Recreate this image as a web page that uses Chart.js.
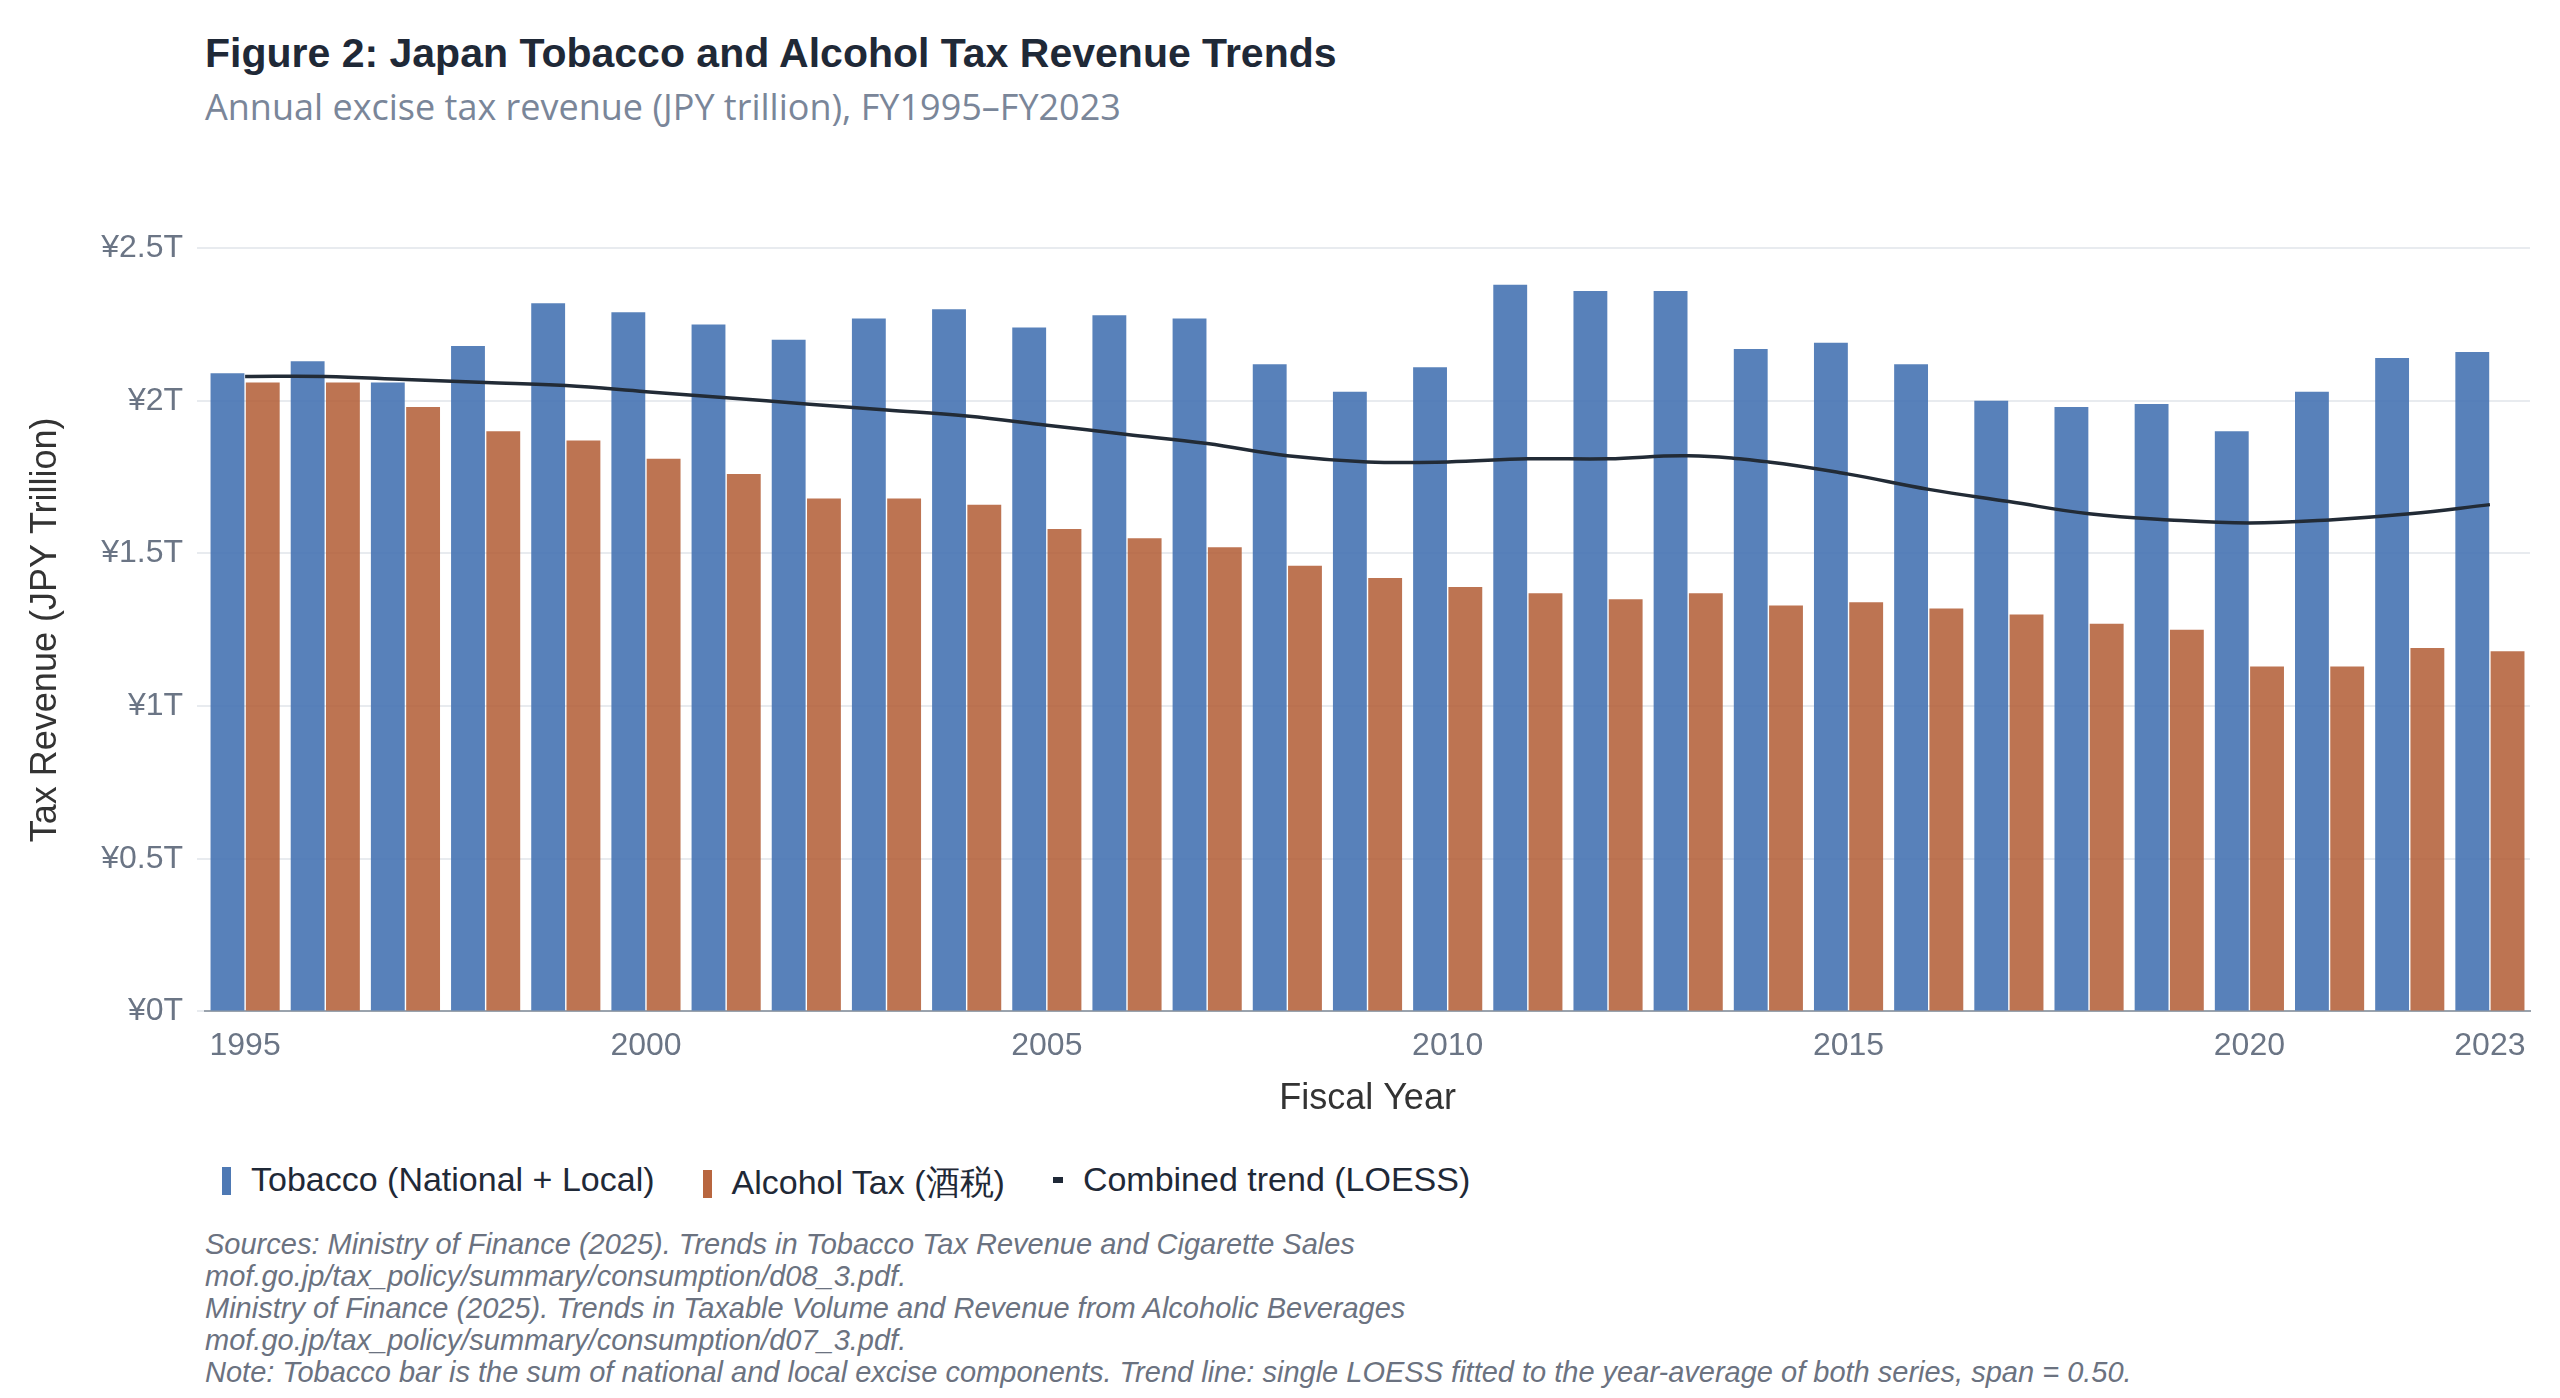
<!DOCTYPE html>
<html><head><meta charset="utf-8">
<script src="https://cdn.jsdelivr.net/npm/chart.js@4/dist/chart.umd.min.js"></script>
<style>
body{margin:0;background:#fff;width:2560px;height:1398px;position:relative;overflow:hidden;font-family:"Liberation Sans",Arial,sans-serif}
#title{position:absolute;left:205px;top:30px;font-size:41px;font-weight:bold;color:#1f2937}
#sub{position:absolute;left:205px;top:82px;font-family:"Open Sans";font-size:36px;color:#7a8699}
#wrap{position:absolute;left:0;top:215px;width:2540px;height:910px}
#legend{position:absolute;left:222px;top:1160px;font-size:34px;color:#1f2937;display:flex;gap:48px}
#legend span.i{display:inline-block;width:9px;height:28px;vertical-align:-4px;margin-right:20px}
#foot{position:absolute;left:205px;top:1228px;font-size:29px;line-height:32px;font-style:italic;color:#6b7280}
</style></head><body>
<div id="title">Figure 2: Japan Tobacco and Alcohol Tax Revenue Trends</div>
<div id="sub">Annual excise tax revenue (JPY trillion), FY1995–FY2023</div>
<div id="wrap"><canvas id="c"></canvas></div>
<div id="legend">
<div><span class="i" style="background:#4e79b4"></span>Tobacco (National + Local)</div>
<div><span class="i" style="background:#b8663f"></span>Alcohol Tax (酒税)</div>
<div><span class="i" style="background:#1f2937;height:6px;vertical-align:8px;width:10px"></span>Combined trend (LOESS)</div>
</div>
<div id="foot">Sources: Ministry of Finance (2025). Trends in Tobacco Tax Revenue and Cigarette Sales<br>mof.go.jp/tax_policy/summary/consumption/d08_3.pdf.<br>Ministry of Finance (2025). Trends in Taxable Volume and Revenue from Alcoholic Beverages<br>mof.go.jp/tax_policy/summary/consumption/d07_3.pdf.<br>Note: Tobacco bar is the sum of national and local excise components. Trend line: single LOESS fitted to the year-average of both series, span = 0.50.</div>
<script>
const years=[1995,1996,1997,1998,1999,2000,2001,2002,2003,2004,2005,2006,2007,2008,2009,2010,2011,2012,2013,2014,2015,2016,2017,2018,2019,2020,2021,2022,2023];
const tobacco=[2.09,2.13,2.06,2.18,2.32,2.29,2.25,2.20,2.27,2.30,2.24,2.28,2.27,2.12,2.03,2.11,2.38,2.36,2.36,2.17,2.19,2.12,2.00,1.98,1.99,1.90,2.03,2.14,2.16];
const alcohol=[2.06,2.06,1.98,1.90,1.87,1.81,1.76,1.68,1.68,1.66,1.58,1.55,1.52,1.46,1.42,1.39,1.37,1.35,1.37,1.33,1.34,1.32,1.30,1.27,1.25,1.13,1.13,1.19,1.18];
const trend=[2.08,2.08,2.07,2.06,2.05,2.03,2.01,1.99,1.97,1.95,1.92,1.89,1.86,1.82,1.80,1.80,1.81,1.81,1.82,1.80,1.76,1.71,1.67,1.63,1.61,1.60,1.61,1.63,1.66];
const shownTicks=[1995,2000,2005,2010,2015,2020,2023];
const yTicks=[0,0.5,1,1.5,2,2.5];
const tickColor='#6b7585';
new Chart(document.getElementById('c'),{
 data:{labels:years,datasets:[
  {type:'line',data:trend,borderColor:'#222b36',borderWidth:3.5,pointRadius:0,tension:0.4,order:0},
  {type:'bar',data:tobacco,backgroundColor:'rgba(70,115,178,0.9)',categoryPercentage:0.88,barPercentage:0.96,order:1},
  {type:'bar',data:alcohol,backgroundColor:'rgba(178,92,52,0.85)',categoryPercentage:0.88,barPercentage:0.96,order:1}
 ]},
 options:{responsive:true,maintainAspectRatio:false,animation:false,
  layout:{padding:{top:18,right:10,left:20}},
  plugins:{legend:{display:false},tooltip:{enabled:false}},
  scales:{
   x:{grid:{display:false},border:{color:'#9aa3ad',width:2},
      ticks:{autoSkip:false,maxRotation:0,color:tickColor,font:{size:32,family:'Liberation Sans'},padding:8,
        callback:function(v,i){return shownTicks.includes(years[i])?String(years[i]):'';}},
      title:{display:true,text:'Fiscal Year',color:'#333',font:{size:36,family:'Liberation Sans'},padding:{top:4}}},
   y:{min:0,max:2.5,afterBuildTicks:a=>{a.ticks=yTicks.map(v=>({value:v}));},
      grid:{color:'#e8ebef',lineWidth:2},border:{display:false},
      ticks:{color:tickColor,font:{size:32,family:'Liberation Sans'},padding:14,callback:v=>'¥'+v+'T'},
      title:{display:true,text:'Tax Revenue (JPY Trillion)',color:'#333',font:{size:36,family:'Liberation Sans'},padding:{bottom:20}}}
  }}
});
</script></body></html>
